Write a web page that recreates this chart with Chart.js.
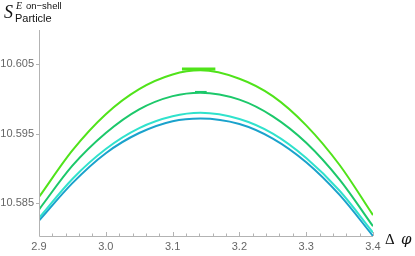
<!DOCTYPE html>
<html>
<head>
<meta charset="utf-8">
<script src="https://cdn.jsdelivr.net/npm/chart.js@4"></script>
<style>
  html, body { margin: 0; padding: 0; background: #fff; }
  #c { display: block; }
</style>
</head>
<body>
<canvas id="c" width="415" height="256"></canvas>
<script>
// values
const phi = [2.9, 2.95, 3.0, 3.05, 3.1, 3.1416, 3.2, 3.25, 3.3, 3.35, 3.4];
const curveA = [10.5859, 10.5926, 10.5978, 10.6014, 10.6035, 10.6041, 10.6029, 10.6004, 10.5962, 10.5905, 10.5833];
const curveB = [10.5841, 10.5904, 10.5951, 10.5985, 10.6004, 10.6009, 10.5999, 10.5975, 10.5937, 10.5884, 10.5817];
const curveC = [10.5829, 10.5885, 10.5928, 10.5958, 10.5975, 10.5980, 10.5971, 10.5950, 10.5915, 10.5868, 10.5808];
const curveD = [10.5825, 10.5879, 10.5922, 10.5951, 10.5968, 10.5972, 10.5964, 10.5943, 10.5909, 10.5862, 10.5803];

// peak markers (horizontal bars)
const barA = { x: [3.114, 3.164], y: 10.6043 };
const barB = { x: [3.1335, 3.151], y: 10.6010 };

const xTicks = [2.9, 3.0, 3.1, 3.2, 3.3, 3.4];
const xMinor = [2.92, 2.94, 2.96, 2.98, 3.02, 3.04, 3.06, 3.08, 3.12, 3.14, 3.16, 3.18,
                3.22, 3.24, 3.26, 3.28, 3.32, 3.34, 3.36, 3.38];
const yTicks = [10.585, 10.595, 10.605];

const colors = ["#50e31a", "#1cc86a", "#30e2cc", "#1aa2cc"];

function pts(xs, ys) {
  return xs.map((x, i) => ({ x: x, y: ys[i] }));
}

function curve(data, color) {
  return {
    data: pts(phi, data),
    borderColor: color,
    borderWidth: 2,
    pointRadius: 0,
    cubicInterpolationMode: "monotone",
    fill: false,
  };
}

function bar(b, color, w) {
  return {
    data: b.x.map(x => ({ x: x, y: b.y })),
    borderColor: color,
    borderWidth: w,
    pointRadius: 0,
    fill: false,
  };
}

const AXIS = "#b3b3b3";

// axes drawn like the reference: gray lines, inward x ticks, short y ticks
const axesPlugin = {
  id: "axes",
  afterDraw(chart) {
    const ctx = chart.ctx;
    const xs = chart.scales.x, ys = chart.scales.y;
    const a = chart.chartArea;
    ctx.save();
    ctx.strokeStyle = AXIS;
    ctx.lineWidth = 1;
    ctx.beginPath();
    ctx.moveTo(a.left + 0.5, a.top);
    ctx.lineTo(a.left + 0.5, a.bottom + 0.5);
    ctx.lineTo(a.right, a.bottom + 0.5);
    ctx.stroke();

    ctx.beginPath();
    xTicks.forEach(v => {
      const p = Math.round(xs.getPixelForValue(v)) + 0.5;
      ctx.moveTo(p, a.bottom);
      ctx.lineTo(p, a.bottom - 4);
    });
    xMinor.forEach(v => {
      const p = Math.round(xs.getPixelForValue(v)) + 0.5;
      ctx.moveTo(p, a.bottom);
      ctx.lineTo(p, a.bottom - 2.5);
    });
    yTicks.forEach(v => {
      const p = Math.round(ys.getPixelForValue(v)) + 0.5;
      ctx.moveTo(a.left, p);
      ctx.lineTo(a.left - 3, p);
    });
    ctx.stroke();

    // title
    ctx.fillStyle = "#111";
    ctx.textBaseline = "alphabetic";
    ctx.font = "italic 18px 'Liberation Serif'";
    ctx.fillText("S", 4, 18);
    ctx.font = "italic 10px 'Liberation Serif'";
    ctx.fillText("E", 16, 9);
    ctx.font = "9.5px 'Liberation Sans'";
    ctx.fillText("on\u2212shell", 26, 9);
    ctx.font = "11px 'Liberation Sans'";
    ctx.fillText("Particle", 15, 22);

    // x axis label
    ctx.font = "15px 'Liberation Serif'";
    ctx.fillText("\u0394", 385, 244);
    ctx.font = "italic 15px 'DejaVu Serif'";
    ctx.fillText("\u03c6", 401, 244);
    ctx.restore();
  },
};

new Chart(document.getElementById("c"), {
  type: "line",
  data: {
    datasets: [
      curve(curveD, colors[3]),
      curve(curveC, colors[2]),
      curve(curveB, colors[1]),
      curve(curveA, colors[0]),
      bar(barB, colors[1], 2),
      bar(barA, colors[0], 3),
    ],
  },
  options: {
    responsive: false,
    animation: false,
    devicePixelRatio: 1,
    layout: { padding: { top: 30, right: 42, left: 0, bottom: 0 } },
    plugins: { legend: { display: false }, tooltip: { enabled: false } },
    scales: {
      x: {
        type: "linear",
        min: 2.9,
        max: 3.4,
        afterFit: s => { s.height = 20; },
        afterBuildTicks: s => { s.ticks = xTicks.map(v => ({ value: v })); },
        grid: { display: false, drawTicks: false },
        border: { display: false },
        ticks: {
          color: "#666",
          padding: 4,
          maxRotation: 0,
          font: { family: "'Liberation Sans'", size: 11 },
          callback: v => v.toFixed(1),
        },
      },
      y: {
        type: "linear",
        min: 10.5803,
        max: 10.6099,
        afterFit: s => { s.width = 39; },
        afterBuildTicks: s => { s.ticks = yTicks.map(v => ({ value: v })); },
        grid: { display: false, drawTicks: false },
        border: { display: false },
        ticks: {
          color: "#666",
          padding: 5,
          font: { family: "'Liberation Sans'", size: 11 },
          callback: v => v.toFixed(3),
        },
      },
    },
  },
  plugins: [axesPlugin],
});
</script>
</body>
</html>
